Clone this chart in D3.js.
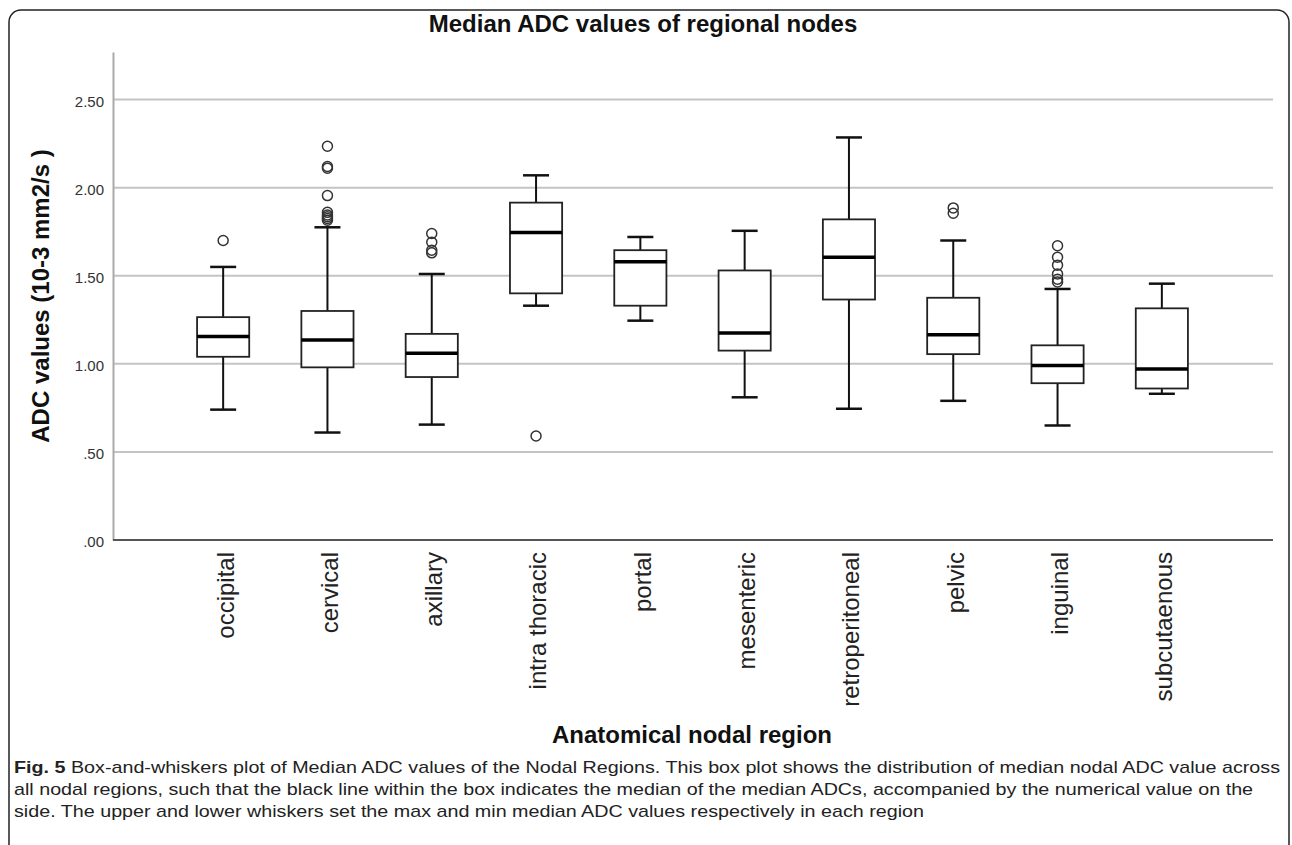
<!DOCTYPE html>
<html>
<head>
<meta charset="utf-8">
<script src="https://cdnjs.cloudflare.com/ajax/libs/d3/7.8.5/d3.min.js"></script>
<style>
  body { margin: 0; background: #fff; }
  text { font-family: "Liberation Sans", Arial, sans-serif; }
</style>
</head>
<body>
<div id="chart"></div>
<script>
// Width and height
var chart_width  = 1292;
var chart_height = 845;

// Data
var regions      = ['occipital', 'cervical', 'axillary', 'intra thoracic', 'portal',
                    'mesenteric', 'retroperitoneal', 'pelvic', 'inguinal', 'subcutaenous'];
var whisker_low  = [0.74, 0.61, 0.655, 1.33, 1.245, 0.81, 0.745, 0.79, 0.65, 0.83];
var q1_values    = [1.04, 0.98, 0.925, 1.40, 1.33, 1.075, 1.365, 1.055, 0.89, 0.86];
var medians      = [1.155, 1.135, 1.06, 1.745, 1.58, 1.175, 1.605, 1.165, 0.99, 0.97];
var q3_values    = [1.265, 1.30, 1.17, 1.915, 1.645, 1.53, 1.82, 1.375, 1.105, 1.315];
var whisker_high = [1.55, 1.775, 1.51, 2.07, 1.72, 1.755, 2.285, 1.70, 1.425, 1.455];
var outliers     = [
    [1.70],
    [2.235, 2.12, 2.11, 1.955, 1.86, 1.845, 1.835, 1.825, 1.815],
    [1.74, 1.69, 1.645, 1.63],
    [0.59],
    [],
    [],
    [],
    [1.885, 1.855],
    [1.67, 1.605, 1.56, 1.51, 1.48, 1.465],
    []
];
var y_ticks      = [0, 0.5, 1.0, 1.5, 2.0, 2.5];

var title_text   = 'Median ADC values of regional nodes';
var y_title      = 'ADC values (10-3 mm2/s )';
var x_title      = 'Anatomical nodal region';
var caption      = [
    ['Fig. 5', ' Box-and-whiskers plot of Median ADC values of the Nodal Regions. This box plot shows the distribution of median nodal ADC value across'],
    ['', 'all nodal regions, such that the black line within the box indicates the median of the median ADCs, accompanied by the numerical value on the'],
    ['', 'side. The upper and lower whiskers set the max and min median ADC values respectively in each region']
];

var boxes = regions.map(function(r, i){
    return { name: r, lo: whisker_low[i], q1: q1_values[i], med: medians[i],
             q3: q3_values[i], hi: whisker_high[i], out: outliers[i] };
});

// Scales
var x = d3.scaleBand().domain(regions).range([171, 1214]);
var y = d3.scaleLinear().domain([0, 2.77]).range([540, 52]);
var plot_left = 113, plot_right = 1273;

// Create SVG
var svg = d3.select('#chart')
    .append('svg')
    .attr('width', chart_width)
    .attr('height', chart_height);

// frame
svg.append('rect')
    .attr('x', 9).attr('y', 10)
    .attr('width', 1280).attr('height', 860)
    .attr('rx', 12)
    .attr('fill', 'none')
    .attr('stroke', '#222')
    .attr('stroke-width', 1.5);

// title
svg.append('text')
    .attr('x', 643).attr('y', 32)
    .attr('text-anchor', 'middle')
    .style('font-size', '24px')
    .style('font-weight', 'bold')
    .style('fill', '#111')
    .text(title_text);

// gridlines
svg.append('g')
    .selectAll('line')
    .data(y_ticks.filter(function(d){ return d > 0; }))
    .enter()
    .append('line')
    .attr('x1', plot_left).attr('x2', plot_right)
    .attr('y1', function(d){ return y(d); })
    .attr('y2', function(d){ return y(d); })
    .attr('stroke', '#c4c4c4')
    .attr('stroke-width', 2);

// y axis
var yAxis = d3.axisLeft(y)
    .tickValues(y_ticks)
    .tickSize(0)
    .tickPadding(9)
    .tickFormat(function(d){ return d3.format('.2f')(d).replace(/^0/, ''); });

var gy = svg.append('g')
    .attr('transform', 'translate(' + plot_left + ',0)')
    .call(yAxis);
gy.select('.domain').attr('stroke', '#aaa').attr('stroke-width', 2);
gy.selectAll('text')
    .attr('dy', '0.45em')
    .style('font-size', '15px')
    .style('fill', '#333')
    .style('font-family', '"Liberation Sans", Arial, sans-serif');

// x axis line
svg.append('line')
    .attr('x1', plot_left).attr('x2', plot_right)
    .attr('y1', y(0)).attr('y2', y(0))
    .attr('stroke', '#555')
    .attr('stroke-width', 2);

// x labels
var xAxis = d3.axisBottom(x).tickSize(0).tickPadding(0);
var gx = svg.append('g')
    .attr('transform', 'translate(0,' + y(0) + ')')
    .call(xAxis);
gx.select('.domain').remove();
gx.selectAll('text')
    .attr('transform', 'rotate(-90)')
    .attr('text-anchor', 'end')
    .attr('x', -12)
    .attr('y', 2)
    .attr('dy', '0.35em')
    .style('font-size', '24px')
    .style('fill', '#222')
    .style('font-family', '"Liberation Sans", Arial, sans-serif');

// boxes
var bw = x.bandwidth() / 2;
var g = svg.append('g')
    .selectAll('g')
    .data(boxes)
    .enter()
    .append('g')
    .attr('transform', function(d){ return 'translate(' + (x(d.name) + x.bandwidth() / 2) + ',0)'; });

g.append('line')
    .attr('y1', function(d){ return y(d.hi); })
    .attr('y2', function(d){ return y(d.q3); })
    .attr('stroke', '#111').attr('stroke-width', 2);
g.append('line')
    .attr('y1', function(d){ return y(d.q1); })
    .attr('y2', function(d){ return y(d.lo); })
    .attr('stroke', '#111').attr('stroke-width', 2);
g.append('line')
    .attr('x1', -13).attr('x2', 13)
    .attr('y1', function(d){ return y(d.hi); })
    .attr('y2', function(d){ return y(d.hi); })
    .attr('stroke', '#111').attr('stroke-width', 2.5);
g.append('line')
    .attr('x1', -13).attr('x2', 13)
    .attr('y1', function(d){ return y(d.lo); })
    .attr('y2', function(d){ return y(d.lo); })
    .attr('stroke', '#111').attr('stroke-width', 2.5);
g.append('rect')
    .attr('x', -bw / 2)
    .attr('width', bw)
    .attr('y', function(d){ return y(d.q3); })
    .attr('height', function(d){ return y(d.q1) - y(d.q3); })
    .attr('fill', '#fff')
    .attr('stroke', '#222')
    .attr('stroke-width', 1.8);
g.append('line')
    .attr('x1', -bw / 2).attr('x2', bw / 2)
    .attr('y1', function(d){ return y(d.med); })
    .attr('y2', function(d){ return y(d.med); })
    .attr('stroke', '#000').attr('stroke-width', 3.5);

g.selectAll('circle')
    .data(function(d){ return d.out; })
    .enter()
    .append('circle')
    .attr('cx', 0)
    .attr('cy', function(d){ return y(d); })
    .attr('r', 5)
    .attr('fill', 'none')
    .attr('stroke', '#333')
    .attr('stroke-width', 1.5);

// axis titles
svg.append('text')
    .attr('transform', 'translate(49,296) rotate(-90)')
    .attr('text-anchor', 'middle')
    .style('font-size', '24px')
    .style('font-weight', 'bold')
    .style('fill', '#111')
    .text(y_title);

svg.append('text')
    .attr('x', 692).attr('y', 743)
    .attr('text-anchor', 'middle')
    .style('font-size', '24px')
    .style('font-weight', 'bold')
    .style('fill', '#111')
    .text(x_title);

// caption: stretched so the first line spans the frame like the figure text
var cap = svg.append('g');
var cap_lines = [];
caption.forEach(function(line, i){
    var t = cap.append('text')
        .attr('x', 14)
        .attr('y', 773 + i * 22)
        .style('font-size', '17px')
        .style('fill', '#222');
    t.append('tspan').style('font-weight', 'bold').text(line[0]);
    t.append('tspan').text(line[1]);
    cap_lines.push(t);
});
var stretch = 1266 / cap_lines[0].node().getComputedTextLength();
cap_lines.forEach(function(t){
    var w = t.node().getComputedTextLength();
    t.attr('textLength', w * stretch).attr('lengthAdjust', 'spacingAndGlyphs');
});
</script>
</body>
</html>
